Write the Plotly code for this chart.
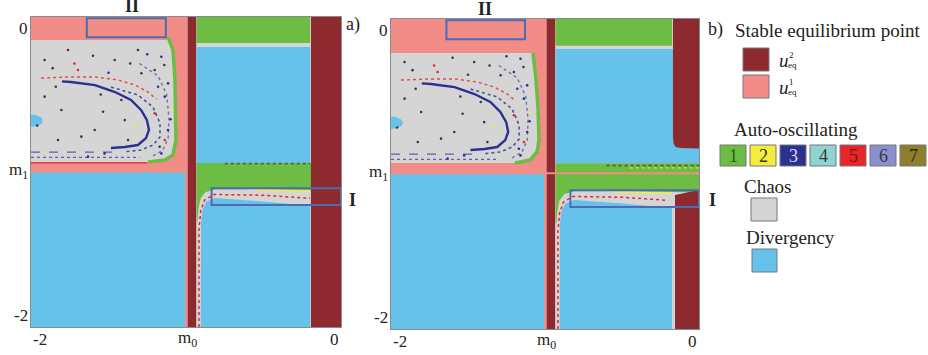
import numpy as np
import plotly.graph_objects as go

W, H = 928, 355

# ---------------- data (axis units, both axes span [-2, 0]) ----------------
M0 = -0.99
M1 = -0.995
X_TICK_VALS = [-2, M0, 0]
X_TICK_TEXT = ["-2", "m<sub>0</sub>", "0"]
Y_TICK_VALS = [0, M1, -2]
Y_TICK_TEXT = ["0", "m<sub>1</sub>", "-2"]

# rectangular regions: (category, x0, x1, y0, y1), in drawing order
RECTS_A_BACK = [("ueq1", -2, M0, -2, 0)]
RECTS_A_MID = [("div", -2, -1.006, -2, -1.003),
               ("ueq2", M0, -0.932, -2, 0),
               ("chaos", -0.932, 0, -2, 0),
               ("p1", -0.932, -0.2, -0.168, 0),
               ("div", -0.932, -0.2, -0.942, -0.194)]
RECTS_A_FRONT = [("ueq2", -0.194, 0, -2, 0)]

RECTS_B_BACK = [("ueq1", -2, M0, -2, 0)]
RECTS_B_MID = [("div", -2, -1.006, -2, -1.0),
               ("ueq2", M0, -0.932, -2, 0),
               ("chaos", -0.932, 0, -2, 0),
               ("p1", -0.932, -0.175, -0.172, 0),
               ("div", -0.932, 0, -0.93, -0.194)]

GREEN_LOW_TOP_A = -0.942
GREEN_LOW_TOP_B = -0.93
BLUE_LOW_RIGHT_A = -0.2
BLUE_LOW_RIGHT_B = -0.175

# chaotic (gray) region on the left, right boundary = green auto-oscillation edge
CHAOS_A_X = [-2, -1.105, -1.084, -1.071, -1.065, -1.065, -1.084, -1.135, -1.245, -2]
CHAOS_A_Y = [-0.148, -0.148, -0.213, -0.406, -0.619, -0.794, -0.890, -0.923, -0.935, -0.935]
EDGE_A_X = [-1.116, -1.084, -1.071, -1.065, -1.065, -1.084, -1.135, -1.245]
EDGE_A_Y = [-0.129, -0.213, -0.406, -0.619, -0.794, -0.890, -0.923, -0.935]

CHAOS_B_X = [-2, -1.078, -1.058, -1.045, -1.039, -1.052, -1.097, -1.195, -2]
CHAOS_B_Y = [-0.219, -0.219, -0.394, -0.587, -0.781, -0.858, -0.910, -0.929, -0.929]
EDGE_B_X = [-1.078, -1.058, -1.045, -1.039, -1.052, -1.097, -1.195]
EDGE_B_Y = [-0.219, -0.394, -0.587, -0.781, -0.858, -0.910, -0.929]

# band between lower green and lower blue areas (right half)
BAND_TOP_X = [-0.926, -0.92, -0.905, -0.875, -0.81, -0.5, 0.0]
BAND_TOP_Y = [-1.32, -1.24, -1.17, -1.13, -1.112, -1.11, -1.12]
BAND_BOT_X = [-0.905, -0.903, -0.892, -0.868, -0.81, -0.5, 0.0]
BAND_BOT_Y = [-2.0, -1.32, -1.235, -1.19, -1.168, -1.19, -1.235]
BAND_RED_X = [-0.916, -0.916, -0.905, -0.88, -0.82, -0.5, -0.2]
BAND_RED_Y = [-2.0, -1.37, -1.25, -1.18, -1.145, -1.15, -1.17]

# panel b: stable point u_eq^2 regions on the right
UEQ2_UP_B_X = [-0.169, 0, 0, -0.12, -0.152, -0.165, -0.169]
UEQ2_UP_B_Y = [0, 0, -0.835, -0.833, -0.826, -0.805, -0.76]
UEQ2_LOW_B_X = [-0.156, 0, 0, -0.156]
UEQ2_LOW_B_Y = [-2, -2, -1.103, -1.135]

# period-3 arc and dotted arcs inside the chaotic region
ARC3_X = [-1.80, -1.742, -1.587, -1.458, -1.355, -1.290, -1.252, -1.239, -1.258, -1.310, -1.394, -1.484]
ARC3_Y = [-0.415, -0.419, -0.439, -0.484, -0.535, -0.600, -0.665, -0.729, -0.781, -0.826, -0.839, -0.845]
ARC3B_X = [-1.484, -1.310, -1.213, -1.168, -1.168, -1.213, -1.290, -1.40]
ARC3B_Y = [-0.452, -0.503, -0.581, -0.684, -0.774, -0.826, -0.858, -0.87]
ARC3C_X = [-1.30, -1.18, -1.125, -1.11, -1.115, -1.15, -1.22]
ARC3C_Y = [-0.30, -0.38, -0.50, -0.65, -0.78, -0.86, -0.90]
ARC5_X = [-1.935, -1.761, -1.587, -1.439, -1.329, -1.245, -1.19]
ARC5_Y = [-0.394, -0.387, -0.387, -0.406, -0.439, -0.484, -0.53]

# isolated points in the chaotic region (x, y, category)
DOT_X = [-1.912, -1.804, -1.535, -1.395, -1.675, -1.417, -1.202, -1.159, -1.137, -1.116,
         -1.170, -1.202, -1.310, -1.697, -1.460, -1.826, -1.589, -1.288, -1.116, -1.159,
         -1.912, -1.761, -1.095, -1.137, -1.374, -1.525, -1.632, -1.86, -1.72, -1.60,
         -1.50, -1.36, -1.25, -1.18, -1.14, -1.10, -1.96, -1.84, -1.55, -1.33]
DOT_Y = [-0.277, -0.600, -0.611, -0.665, -0.772, -0.535, -0.342, -0.256, -0.514, -0.729,
         -0.837, -0.621, -0.213, -0.342, -0.277, -0.794, -0.729, -0.363, -0.428, -0.880,
         -0.514, -0.213, -0.600, -0.794, -0.794, -0.880, -0.901, -0.33, -0.30, -0.25,
         -0.36, -0.30, -0.24, -0.45, -0.31, -0.66, -0.70, -0.45, -0.50, -0.70]
DOT_C = ["k", "k", "k", "k", "k", "k", "p3", "p3", "p3", "p3",
         "p3", "p5", "k", "p5", "k", "k", "k", "k", "p3", "p3",
         "k", "k", "p2", "p5", "k", "p3", "p3", "k", "p5", "k",
         "p3", "k", "p3", "p3", "k", "p3", "k", "k", "k", "p2"]

ELLIPSE = (-2.0, -0.67, 0.077, 0.04)  # cx, cy, rx, ry of the small divergence island

BOX_I = (-0.835, 0.0, -1.213, -1.105)
BOX_II = (-1.64, -1.13, -0.13, -0.008)

EQ_CATS = ["ueq2", "ueq1"]
EQ_SUP = ["2", "1"]
AUTO_CATS = ["p1", "p2", "p3", "p4", "p5", "p6", "p7"]
AUTO_TEXT = ["1", "2", "3", "4", "5", "6", "7"]

# ---------------- styles ----------------
COL = {"ueq2": "#8c2a2f", "ueq1": "#f28c87", "chaos": "#d5d5d5", "div": "#67c2eb",
       "p1": "#6dbd45", "p2": "#f5ed3c", "p3": "#2c3190", "p4": "#8fd4d0",
       "p5": "#e8252b", "p6": "#8a90cf", "p7": "#8e7f2c", "k": "#3a3a3a"}
NUM_COL = ["#2c5a1c", "#333333", "#d8d8f4", "#3a3a3a", "#7a1416", "#3a3a3a", "#2e2a0c"]
SERIF = "Liberation Serif"
BOXLINE = "#4a6cb4"

fig = go.Figure()


def poly(xs, ys, color, xa, ya):
    fig.add_trace(go.Scatter(x=list(xs), y=list(ys), mode="lines", fill="toself",
                             fillcolor=color, line=dict(width=0, color=color),
                             hoverinfo="skip", showlegend=False, xaxis=xa, yaxis=ya))


def line(xs, ys, color, width, xa, ya, dash="solid", opacity=1.0):
    fig.add_trace(go.Scatter(x=list(xs), y=list(ys), mode="lines",
                             line=dict(width=width, color=color, dash=dash),
                             opacity=opacity, hoverinfo="skip", showlegend=False,
                             xaxis=xa, yaxis=ya))


def rects(lst, xa, ya):
    for cat, x0, x1, y0, y1 in lst:
        poly([x0, x1, x1, x0, x0], [y0, y0, y1, y1, y0], COL[cat], xa, ya)


def green_low(top, xa, ya):
    xs = [-0.932, 0] + BAND_TOP_X[::-1] + [-0.932]
    ys = [top, top] + BAND_TOP_Y[::-1] + [BAND_TOP_Y[0]]
    poly(xs, ys, COL["p1"], xa, ya)


def blue_low(right, xa, ya):
    pts = [(x, y) for x, y in zip(BAND_BOT_X, BAND_BOT_Y) if x < right]
    yr = float(np.interp(right, BAND_BOT_X, BAND_BOT_Y))
    xs = [p[0] for p in pts] + [right, right, BAND_BOT_X[0]]
    ys = [p[1] for p in pts] + [yr, -2, -2]
    poly(xs, ys, COL["div"], xa, ya)


def common_left(edge_x, edge_y, top, xa, ya):
    cx, cy, rx, ry = ELLIPSE
    t = np.linspace(-np.pi / 2, np.pi / 2, 25)
    poly(cx + rx * np.cos(t), cy + ry * np.sin(t), COL["div"], xa, ya)
    line(ARC5_X, ARC5_Y, COL["p5"], 1.4, xa, ya, dash="dot", opacity=0.8)
    line(ARC3C_X, ARC3C_Y, COL["p3"], 1.4, xa, ya, dash="dot", opacity=0.6)
    line(ARC3B_X, ARC3B_Y, COL["p3"], 1.6, xa, ya, dash="dot", opacity=0.8)
    line(ARC3_X, ARC3_Y, COL["p3"], 2.4, xa, ya)
    line([-2, -1.45], [-0.872, -0.872], COL["p3"], 1.3, xa, ya, dash="dash", opacity=0.7)
    line([-2, -1.30], [-0.905, -0.905], COL["p3"], 1.3, xa, ya, dash="dot", opacity=0.7)
    sel = [i for i in range(len(DOT_X)) if DOT_Y[i] < top - 0.02]
    fig.add_trace(go.Scatter(x=[DOT_X[i] for i in sel], y=[DOT_Y[i] for i in sel], mode="markers",
                             marker=dict(size=2.6, color=[COL[DOT_C[i]] for i in sel]),
                             hoverinfo="skip", showlegend=False, xaxis=xa, yaxis=ya))
    line(edge_x, edge_y, COL["p1"], 3.5, xa, ya)


def band_lines(right, xa, ya):
    bx = [x for x in BAND_RED_X if x <= right]
    by = BAND_RED_Y[:len(bx)]
    line(bx, by, COL["p5"], 1.5, xa, ya, dash="dot")
    line([-0.55, right], [-1.116, -1.124], COL["p2"], 1.5, xa, ya)


# ---------------- panel a ----------------
xa, ya = "x", "y"
rects(RECTS_A_BACK, xa, ya)
poly(CHAOS_A_X, CHAOS_A_Y, COL["chaos"], xa, ya)
common_left(EDGE_A_X, EDGE_A_Y, CHAOS_A_Y[0], xa, ya)
line([-2, -1.25], [-0.941, -0.941], COL["p5"], 1.3, xa, ya)
rects(RECTS_A_MID, xa, ya)
green_low(GREEN_LOW_TOP_A, xa, ya)
blue_low(BLUE_LOW_RIGHT_A, xa, ya)
band_lines(BLUE_LOW_RIGHT_A, xa, ya)
line([-0.75, -0.2], [-0.946, -0.946], "#444444", 1.6, xa, ya, dash="dot", opacity=0.7)
rects(RECTS_A_FRONT, xa, ya)

# ---------------- panel b ----------------
xa, ya = "x2", "y2"
rects(RECTS_B_BACK, xa, ya)
poly(CHAOS_B_X, CHAOS_B_Y, COL["chaos"], xa, ya)
common_left(EDGE_B_X, EDGE_B_Y, CHAOS_B_Y[0], xa, ya)
rects(RECTS_B_MID, xa, ya)
poly(UEQ2_UP_B_X, UEQ2_UP_B_Y, COL["ueq2"], xa, ya)
green_low(GREEN_LOW_TOP_B, xa, ya)
blue_low(BLUE_LOW_RIGHT_B, xa, ya)
band_lines(BLUE_LOW_RIGHT_B, xa, ya)
line([-0.6, 0], [-0.945, -0.945], "#444444", 2.0, xa, ya, dash="dot", opacity=0.7)
line([-0.45, 0], [-0.96, -0.96], COL["p2"], 1.2, xa, ya, dash="dot", opacity=0.8)
poly(UEQ2_LOW_B_X, UEQ2_LOW_B_Y, COL["ueq2"], xa, ya)
line([-2, 0], [M1, M1], COL["ueq1"], 2, xa, ya)


# ---------------- layout ----------------
def fx(p):
    return p / W


def fy(p):
    return 1 - p / H


shapes = []
annos = []
for xr, yr in (("x", "y"), ("x2", "y2")):
    for (x0, x1, y0, y1) in (BOX_I, BOX_II):
        shapes.append(dict(type="rect", xref=xr, yref=yr, x0=x0, x1=x1, y0=y0, y1=y1,
                           line=dict(color=BOXLINE, width=2), layer="above"))
    for v, t in zip(X_TICK_VALS, X_TICK_TEXT):
        anc = "left" if v == -2 else ("right" if v == 0 else "center")
        annos.append(dict(xref=xr, yref=yr, x=v, y=-2, text=t, showarrow=False,
                          xanchor=anc, yanchor="middle", yshift=-12,
                          font=dict(family=SERIF, size=17, color="#222")))
    for v, t in zip(Y_TICK_VALS, Y_TICK_TEXT):
        anc = "top" if v == 0 else ("bottom" if v == -2 else "middle")
        annos.append(dict(xref=xr, yref=yr, x=-2, y=v, text=t, showarrow=False,
                          xanchor="right", yanchor=anc, xshift=-1,
                          font=dict(family=SERIF, size=17, color="#222")))


def text(px, py, t, size=18, anchor="left", bold=False, color="#222", italic=False):
    if bold:
        t = "<b>" + t + "</b>"
    if italic:
        t = "<i>" + t + "</i>"
    annos.append(dict(xref="paper", yref="paper", x=fx(px), y=fy(py), text=t, showarrow=False,
                      xanchor=anchor, yanchor="middle",
                      font=dict(family=SERIF, size=size, color=color)))


text(132, 6, "II", 18, "center", bold=True)
text(485, 9, "II", 18, "center", bold=True)
text(352, 200, "I", 18, "center", bold=True)
text(712, 200, "I", 18, "center", bold=True)
text(353, 24, "a)", 18, "center")
text(715, 29, "b)", 18, "center")

# legend
text(733, 30, "Stable equilibrium point", 19)
for i, cat in enumerate(EQ_CATS):
    y0 = 48 + i * 27
    shapes.append(dict(type="rect", xref="paper", yref="paper", x0=fx(743), x1=fx(769),
                       y0=fy(y0 + 23), y1=fy(y0), fillcolor=COL[cat],
                       line=dict(color="#777", width=1)))
    text(777, y0 + 12, "u", 19, italic=True)
    text(787, y0 + 7, EQ_SUP[i], 9)
    text(786, y0 + 17, "eq", 9)

text(732, 130, "Auto-oscillating", 19)
for i, cat in enumerate(AUTO_CATS):
    x0 = 720 + i * 30
    shapes.append(dict(type="rect", xref="paper", yref="paper", x0=fx(x0), x1=fx(x0 + 26),
                       y0=fy(166), y1=fy(145), fillcolor=COL[cat],
                       line=dict(color="#777", width=1)))
    text(x0 + 13, 156, AUTO_TEXT[i], 18, "center", color=NUM_COL[i])

text(742, 186, "Chaos", 19)
shapes.append(dict(type="rect", xref="paper", yref="paper", x0=fx(751), x1=fx(777),
                   y0=fy(221), y1=fy(198), fillcolor=COL["chaos"], line=dict(color="#777", width=1)))
text(744, 237, "Divergency", 19)
shapes.append(dict(type="rect", xref="paper", yref="paper", x0=fx(752), x1=fx(777),
                   y0=fy(272), y1=fy(249), fillcolor=COL["div"], line=dict(color="#777", width=1)))

ax_common = dict(range=[-2, 0], showticklabels=False, showgrid=False, zeroline=False,
                 showline=True, mirror=True, linecolor="#8a8a8a", linewidth=1,
                 ticks="", fixedrange=True)

fig.update_layout(
    width=W, height=H, margin=dict(l=0, r=0, t=0, b=0),
    paper_bgcolor="white", plot_bgcolor="white", showlegend=False,
    font=dict(family=SERIF),
    xaxis=dict(domain=[fx(31), fx(341)], anchor="y", **ax_common),
    yaxis=dict(domain=[fy(327), fy(17)], anchor="x", **ax_common),
    xaxis2=dict(domain=[fx(391), fx(699)], anchor="y2", **ax_common),
    yaxis2=dict(domain=[fy(329), fy(19)], anchor="x2", **ax_common),
    shapes=shapes, annotations=annos,
)

fig.write_html("out.html", config={"displayModeBar": False},
               post_script="document.body.style.margin='0';document.body.style.padding='0';"
                           "document.body.style.overflow='hidden';")
